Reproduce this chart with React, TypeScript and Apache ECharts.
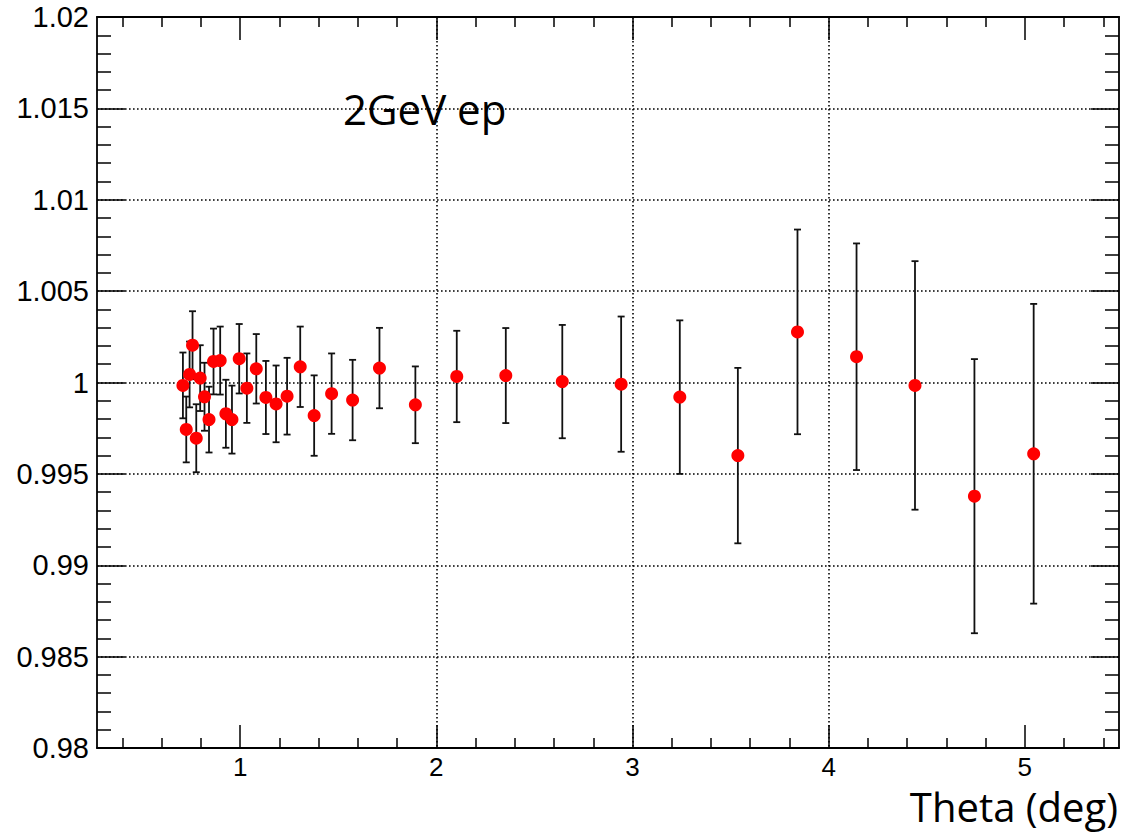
import React, { useEffect, useRef } from "react";
import * as echarts from "echarts";

const theta = [0.708, 0.725, 0.742, 0.757, 0.776, 0.796, 0.818, 0.841, 0.864, 0.898, 0.927, 0.958, 0.995, 1.034, 1.082, 1.131, 1.183, 1.239, 1.306, 1.377, 1.466, 1.573, 1.71, 1.893, 2.104, 2.354, 2.642, 2.942, 3.241, 3.537, 3.841, 4.142, 4.44, 4.743, 5.045];
const ratio = [0.99984, 0.99743, 1.00044, 1.00204, 0.99695, 1.00024, 0.99922, 0.99797, 1.00115, 1.0012, 0.99829, 0.99797, 1.0013, 0.99969, 1.00075, 0.99918, 0.99883, 0.99925, 1.00086, 0.99819, 0.99939, 0.99904, 1.00079, 0.99878, 1.00033, 1.00038, 1.00005, 0.99991, 0.9992, 0.996, 1.00277, 1.00141, 0.99984, 0.99378, 0.9961];
const ratioErr = [0.0018, 0.0018, 0.0018, 0.00186, 0.00186, 0.0018, 0.00186, 0.0018, 0.0018, 0.00186, 0.00186, 0.00186, 0.0019, 0.0019, 0.0019, 0.002, 0.0021, 0.0021, 0.0022, 0.0022, 0.0022, 0.0022, 0.0022, 0.0021, 0.0025, 0.0026, 0.0031, 0.0037, 0.0042, 0.0048, 0.0056, 0.0062, 0.0068, 0.0075, 0.0082];

const xMajorTicks = [1, 2, 3, 4, 5];
const xMinorTicks = [0.4, 0.6, 0.8, 1.2, 1.4, 1.6, 1.8, 2.2, 2.4, 2.6, 2.8, 3.2, 3.4, 3.6, 3.8, 4.2, 4.4, 4.6, 4.8, 5.2, 5.4];
const X_MIN = 0.27;
const X_MAX = 5.48;
const Y_MIN = 0.98;
const Y_MAX = 1.02;
const Y_STEP = 0.005;

const titleText = "2GeV ep";
const xTitle = "Theta (deg)";

export default function App() {
  const ref = useRef<HTMLDivElement>(null);
  useEffect(() => {
    if (!ref.current) return;
    const chart = echarts.init(ref.current, null, { renderer: "svg" });
    const frame = { show: true, lineStyle: { color: "#000", width: 1.8 } };
    const grid = { show: true, lineStyle: { color: "#000", width: 1.6, type: [1.6, 2.4] } };
    const labelFont = { fontFamily: "Liberation Sans", color: "#000" };

    const xBase = (pos: string) => ({
      type: "value",
      position: pos,
      min: X_MIN,
      max: X_MAX,
      gridIndex: 0,
    });

    const option: any = {
      animation: false,
      backgroundColor: "#fff",
      grid: { left: 97, top: 17, right: 8, bottom: 86, containLabel: false },
      xAxis: [
        {
          ...xBase("bottom"),
          axisLine: frame,
          axisTick: { show: true, inside: true, length: 23, customValues: xMajorTicks, lineStyle: { color: "#000", width: 1.5 } },
          axisLabel: { show: true, customValues: xMajorTicks, fontSize: 26, lineHeight: 22, margin: 8, ...labelFont },
          splitLine: { ...grid, showMinLine: false, showMaxLine: false },
        },
        {
          ...xBase("bottom"),
          axisLine: { show: false },
          axisTick: { show: true, inside: true, length: 10, customValues: xMinorTicks, lineStyle: { color: "#000", width: 1.5 } },
          axisLabel: { show: false },
          splitLine: { show: false },
        },
        {
          ...xBase("top"),
          axisLine: frame,
          axisTick: { show: true, inside: true, length: 23, customValues: xMajorTicks, lineStyle: { color: "#000", width: 1.5 } },
          axisLabel: { show: false },
          splitLine: { show: false },
        },
        {
          ...xBase("top"),
          axisLine: { show: false },
          axisTick: { show: true, inside: true, length: 10, customValues: xMinorTicks, lineStyle: { color: "#000", width: 1.5 } },
          axisLabel: { show: false },
          splitLine: { show: false },
        },
      ],
      yAxis: [
        {
          type: "value",
          position: "left",
          min: Y_MIN,
          max: Y_MAX,
          interval: Y_STEP,
          axisLine: frame,
          axisTick: { show: true, inside: true, length: 28, lineStyle: { color: "#000", width: 1.5 } },
          minorTick: { show: true, splitNumber: 5, length: 14, lineStyle: { color: "#000", width: 1.5 } },
          axisLabel: {
            show: true,
            fontSize: 29,
            margin: 8,
            ...labelFont,
            formatter: (v: number) => String(+v.toFixed(3)),
          },
          splitLine: { ...grid, showMinLine: false, showMaxLine: false },
        },
        {
          type: "value",
          position: "right",
          min: Y_MIN,
          max: Y_MAX,
          interval: Y_STEP,
          axisLine: frame,
          axisTick: { show: true, inside: true, length: 28, lineStyle: { color: "#000", width: 1.5 } },
          minorTick: { show: true, splitNumber: 5, length: 14, lineStyle: { color: "#000", width: 1.5 } },
          axisLabel: { show: false },
          splitLine: { show: false },
        },
      ],
      series: [
        {
          type: "custom",
          xAxisIndex: 0,
          yAxisIndex: 0,
          z: 2,
          data: theta.map((t, i) => [t, ratio[i] - ratioErr[i], ratio[i] + ratioErr[i]]),
          renderItem: (params: any, api: any) => {
            const lo = api.coord([api.value(0), api.value(1)]);
            const hi = api.coord([api.value(0), api.value(2)]);
            const cap = 3.5;
            const style = { stroke: "#111", lineWidth: 1.8 };
            return {
              type: "group",
              children: [
                { type: "line", shape: { x1: lo[0], y1: lo[1], x2: hi[0], y2: hi[1] }, style },
                { type: "line", shape: { x1: lo[0] - cap, y1: lo[1], x2: lo[0] + cap, y2: lo[1] }, style },
                { type: "line", shape: { x1: hi[0] - cap, y1: hi[1], x2: hi[0] + cap, y2: hi[1] }, style },
              ],
            };
          },
        },
        {
          type: "scatter",
          xAxisIndex: 0,
          yAxisIndex: 0,
          z: 3,
          symbol: "circle",
          symbolSize: 13,
          itemStyle: { color: "#ff0000", borderWidth: 0, opacity: 1 },
          data: theta.map((t, i) => [t, ratio[i]]),
        },
      ],
      graphic: [
        {
          type: "text",
          left: 343,
          top: 87,
          style: { text: titleText, fontSize: 42, fontFamily: "Open Sans", fill: "#000" },
          z: 10,
        },
        {
          type: "text",
          right: 9,
          top: 786,
          style: { text: xTitle, fontSize: 40, lineHeight: 30, fontFamily: "Open Sans", fill: "#000" },
          z: 10,
        },
      ],
    };
    chart.setOption(option);
    return () => chart.dispose();
  }, []);
  return (
    <div
      ref={ref}
      style={{ position: "fixed", left: 0, top: 0, width: 1127, height: 834, background: "#fff" }}
    />
  );
}
